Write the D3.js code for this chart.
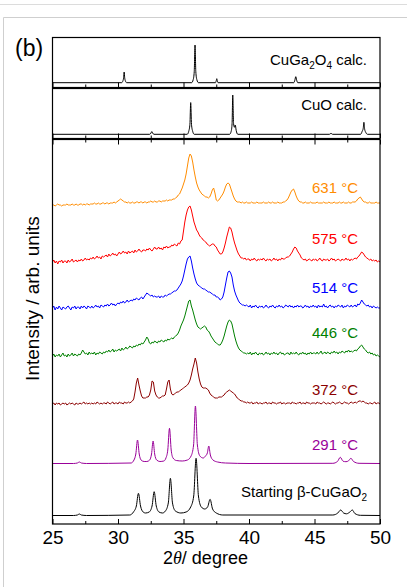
<!DOCTYPE html>
<html>
<head>
<meta charset="utf-8">
<script src="https://cdn.jsdelivr.net/npm/d3@7"></script>
<style>
html,body{margin:0;padding:0;background:#fff;}
svg{display:block;}
text{font-family:"Liberation Sans",Arial,Helvetica,sans-serif;}
</style>
</head>
<body>
<svg id="chart" width="407" height="587"></svg>
<script>
// ---------------- DATA ----------------
const xTicks = [25, 30, 35, 40, 45, 50];
const xMinorTicks = [27.5, 32.5, 37.5, 42.5, 47.5];
const xTickLabels = ["25", "30", "35", "40", "45", "50"];

// measurement grid (2θ, 0.1° step)
const twoTheta = d3.range(251).map(i => +(25 + i * 0.1).toFixed(1));

const orange631 = [
1,1,0,1,2,1,1,0,1,1,
1,2,1,1,1,2,1,1,2,1,
1,2,2,1,2,1,2,2,1,2,
2,2,3,2,2,3,2,2,3,3,
2,3,3,2,3,3,3,4,3,4,
5,6,7,6,5,4,4,3,4,3,
3,4,3,3,4,4,3,4,4,3,
4,4,3,4,4,5,4,4,5,4,
4,5,5,4,5,5,5,6,5,6,
6,6,7,7,8,9,11,12,15,18,
22,26,32,40,48,52,50,44,36,29,
23,19,16,14,12,11,10,9,9,8,
9,12,16,18,13,6,5,6,8,10,
12,15,19,22,23,22,18,14,10,7,
5,4,4,4,3,4,3,3,4,3,
3,3,4,3,3,3,4,3,3,3,
3,4,3,3,3,4,3,3,4,3,
3,3,4,3,3,3,4,4,5,6,
8,11,14,16,17,14,10,7,5,4,
4,3,3,4,3,3,3,4,3,3,
3,3,4,3,3,3,3,4,3,3,
3,4,3,3,3,4,3,3,3,4,
3,3,4,3,3,3,4,3,3,4,
4,4,5,7,8,9,7,5,4,4,
3,3,4,3,3,3,3,4,3,3,
3];

const red575 = [
1,3,0,2,-1,2,1,3,0,2,
2,0,3,1,2,4,1,2,3,1,
3,2,4,2,3,5,3,4,3,5,
4,6,4,5,7,5,6,4,7,6,
7,8,6,9,7,8,10,8,9,7,
9,11,9,10,12,10,11,9,12,10,
11,12,10,13,11,12,14,12,11,13,
13,12,14,13,15,13,12,14,16,14,
14,16,14,15,13,16,15,17,15,16,
16,18,17,19,18,17,20,19,22,23,
32,41,48,53,56,57,53,47,41,37,
33,31,28,26,25,23,22,21,19,18,
17,18,19,19,17,16,13,11,9,9,
11,15,20,26,31,36,35,31,25,20,
16,12,9,7,5,5,4,5,3,4,
4,2,4,3,5,3,2,4,3,4,
3,5,3,2,4,3,4,2,3,5,
3,4,2,4,3,5,4,4,5,6,
6,7,9,11,14,16,15,12,10,8,
5,4,3,4,2,3,4,3,2,4,
3,4,2,3,5,3,2,4,3,3,
4,2,3,5,3,4,2,3,4,3,
2,4,3,3,5,3,4,2,4,3,
4,5,4,6,7,9,11,10,8,6,
5,4,3,4,2,3,2,3,1,2,
1];

const blue514 = [
1,3,-1,2,0,3,1,-1,2,1,
0,2,3,1,-1,2,1,3,0,2,
2,0,3,1,3,2,0,3,2,1,
3,1,2,4,2,3,1,4,3,2,
4,3,5,3,4,6,4,5,3,5,
6,5,7,6,8,6,7,9,7,8,
9,8,10,9,11,10,9,11,12,10,
12,14,16,15,14,13,14,12,13,12,
12,13,11,13,12,12,14,13,14,15,
15,16,17,18,18,19,21,23,25,28,
33,39,45,50,52,53,48,41,35,30,
26,24,23,22,21,20,20,19,18,17,
17,16,15,14,14,12,12,11,9,10,
12,17,24,31,37,38,36,32,24,18,
14,11,8,6,5,4,4,3,4,3,
2,4,1,3,2,4,2,1,3,2,
3,1,2,4,2,1,3,2,4,2,
1,3,2,4,2,3,1,2,4,3,
2,4,2,3,1,3,2,4,2,3,
3,1,2,4,2,3,1,3,2,4,
2,3,1,4,2,3,2,5,2,3,
1,3,4,2,3,1,3,2,4,3,
2,4,1,3,2,4,3,2,4,2,
3,4,2,5,4,6,9,7,5,4,
3,4,2,3,1,3,2,1,2,1,
1];

const green446 = [
1,3,0,2,1,3,0,2,4,1,
2,0,3,1,2,4,1,3,2,1,
3,2,4,7,5,3,4,2,5,3,
4,3,5,2,4,3,5,4,3,5,
4,6,5,7,5,6,8,5,7,6,
7,8,6,9,7,8,10,8,9,11,
10,9,11,10,12,11,13,12,14,13,
15,17,20,18,14,13,15,14,16,15,
14,16,15,17,16,15,17,16,18,17,
18,19,18,20,21,22,24,27,31,34,
37,41,46,51,56,57,51,47,42,37,
33,30,29,28,29,30,31,30,27,26,
24,21,19,17,15,14,13,12,12,14,
17,21,26,31,35,37,36,33,27,21,
16,12,9,7,6,5,4,4,3,4,
3,5,2,4,3,5,3,2,4,3,
4,2,3,5,3,4,2,4,3,5,
3,4,2,4,5,3,4,2,3,4,
4,2,5,3,4,3,5,3,2,4,
3,5,3,4,2,4,3,5,3,4,
4,3,5,3,4,6,3,4,5,3,
5,4,3,5,4,6,4,5,3,5,
4,6,5,4,6,5,7,5,6,5,
6,7,6,8,9,11,12,10,8,7,
5,4,5,3,4,2,3,1,2,1,
0];

const wine372 = [
1,2,0,2,1,2,0,1,2,1,
2,0,1,2,1,2,1,0,2,1,
1,2,1,2,3,1,2,1,2,1,
2,1,2,1,3,2,1,2,1,2,
2,1,3,2,1,2,3,1,2,2,
1,3,2,2,1,3,2,2,3,2,
3,4,6,13,22,27,20,14,9,7,
7,7,8,8,10,15,24,23,14,10,
8,7,7,8,9,9,10,16,23,25,
16,11,10,11,12,13,13,14,15,16,
17,18,19,20,22,25,30,36,41,47,
42,33,26,21,18,17,17,17,16,15,
12,10,9,8,7,7,7,8,8,8,
9,10,12,13,14,15,14,13,12,11,
9,7,6,5,4,4,3,3,2,3,
2,2,3,1,2,2,3,1,2,2,
1,2,2,3,1,2,2,1,3,2,
2,1,2,2,3,1,2,2,1,2,
2,2,1,3,2,2,1,2,2,3,
1,2,2,1,3,2,2,1,2,2,
2,1,3,2,2,1,2,3,2,1,
2,2,1,2,3,2,1,2,2,3,
2,1,2,3,2,2,1,2,3,2,
2,3,2,3,4,4,3,4,3,2,
2,1,2,2,1,2,3,1,2,2,
1];

// sharper patterns: [2θ, intensity] pairs
const purple291 = [[25,0.5],[26.6,0.5],[26.9,1],[27.05,2],[27.2,1],[27.6,0.5],[31.0,1],[31.22,4],[31.36,10],[31.49,24],[31.62,10],[31.76,4],[32.0,2.5],[32.2,2.5],[32.42,4],[32.56,10],[32.68,23],[32.8,10],[32.95,4],[33.2,2.5],[33.5,3],[33.66,6],[33.8,14],[33.93,35.7],[34.06,14],[34.2,6],[34.45,3.5],[34.9,3],[35.3,4],[35.58,8],[35.77,19],[35.91,58],[36.06,19],[36.25,8],[36.5,6],[36.68,8],[36.82,11],[36.93,18],[37.05,9],[37.25,4],[37.6,2],[38.2,1],[40,0.5],[46.4,0.7],[46.75,2.5],[46.97,6.7],[47.18,2.8],[47.4,2.3],[47.6,3.2],[47.78,5.7],[47.98,2.5],[48.4,0.7],[50,0.5]];

const black0 = [[25,0.5],[26.6,0.5],[26.9,1],[27.05,2],[27.2,1],[27.6,0.5],[30.9,1],[31.18,4],[31.4,10],[31.56,22.7],[31.72,10],[31.92,4],[32.1,3],[32.38,4],[32.6,10],[32.76,24.3],[32.92,10],[33.13,4],[33.4,3],[33.62,5],[33.84,13],[34.0,37.7],[34.16,13],[34.38,5],[34.8,3],[35.2,4],[35.55,9],[35.78,20],[35.96,57.7],[36.14,20],[36.36,9],[36.62,7],[36.84,9],[37.03,16.7],[37.22,7],[37.5,3],[38,1],[46.4,1],[46.78,3],[47.0,6],[47.22,3],[47.45,2.2],[47.7,4],[47.89,6],[48.08,2.5],[48.5,0.7],[50,0.5]];

const cuga2o4Calc = [[25,0],[30.28,0],[30.38,2],[30.43,5],[30.47,10.7],[30.51,5],[30.56,2],[30.66,0],[35.62,0],[35.74,3],[35.82,11],[35.88,37.7],[35.94,11],[36.02,3],[36.14,0],[37.44,0],[37.5,2],[37.54,4],[37.58,2],[37.64,0],[43.42,0],[43.5,2.5],[43.57,6],[43.64,2.5],[43.72,0],[50,0]];

const cuoCalc = [[25,0],[32.42,0],[32.52,1.3],[32.58,2.7],[32.64,1.3],[32.74,0],[35.28,0],[35.4,3],[35.49,10],[35.55,31.7],[35.61,10],[35.7,3],[35.82,0],[38.52,0],[38.64,3],[38.71,11],[38.76,39.3],[38.82,11],[38.89,7],[38.95,9.3],[39.02,4],[39.14,0],[46.14,0],[46.26,1],[46.38,0],[48.52,0],[48.64,3],[48.72,6],[48.77,12],[48.83,5],[48.91,2],[49.04,0],[50,0]];

// stacking offsets (intensity units) and labels
const seriesNames = ["631 °C", "575 °C", "514 °C", "446 °C", "372 °C", "291 °C", "Starting β-CuGaO₂"];
const seriesOffsets = [318, 261, 215, 167, 119, 60, 8];
const seriesColors = ["#ff8c00", "#ff0000", "#0000ff", "#008000", "#8b0000", "#990099", "#000000"];
const calcOffsets = [4.8, 4.2];

// ---------------- DRAW ----------------
const svg = d3.select("#chart");
const FONT = '"Liberation Sans", Arial, Helvetica, sans-serif';

// page frame (light grey)
svg.append("line").attr("x1", 0).attr("x2", 407).attr("y1", 4.5).attr("y2", 4.5)
  .attr("stroke", "#dcdcdc").attr("stroke-width", 1);
svg.append("path").attr("d", "M3.5,587 V17.5 H407")
  .attr("fill", "none").attr("stroke", "#cfcfcf").attr("stroke-width", 1);

const L = 52.5, R = 380;
const x = d3.scaleLinear().domain([25, 50]).range([L, R]);

const panels = [
  { top: 37.5, bottom: 87.5, max: 50 },
  { top: 88.5, bottom: 138.5, max: 50 },
  { top: 139.5, bottom: 524, max: 384.5 }
];
panels.forEach(p => { p.y = d3.scaleLinear().domain([0, p.max]).range([p.bottom, p.top]); });

// clip paths
const defs = svg.append("defs");
panels.forEach((p, i) => {
  defs.append("clipPath").attr("id", "clip" + i).append("rect")
    .attr("x", L).attr("y", p.top).attr("width", R - L).attr("height", p.bottom - p.top);
});

// calc patterns
const calcData = [cuga2o4Calc, cuoCalc];
calcData.forEach((d, i) => {
  const p = panels[i];
  const line = d3.line().x(v => x(v[0])).y(v => p.y(calcOffsets[i] + v[1])).curve(d3.curveMonotoneX);
  svg.append("path").datum(d).attr("d", line).attr("fill", "none")
    .attr("stroke", "#000").attr("stroke-width", 1).attr("clip-path", "url(#clip" + i + ")");
});

// experimental patterns
const main = panels[2];
const gridSeries = [orange631, red575, blue514, green446, wine372];
gridSeries.forEach((vals, i) => {
  const line = d3.line().x((v, j) => x(twoTheta[j])).y(v => main.y(seriesOffsets[i] + v));
  svg.append("path").datum(vals).attr("d", line).attr("fill", "none")
    .attr("stroke", seriesColors[i]).attr("stroke-width", 1).attr("stroke-linejoin", "round")
    .attr("clip-path", "url(#clip2)");
});
[purple291, black0].forEach((d, k) => {
  const i = 5 + k;
  const line = d3.line().x(v => x(v[0])).y(v => main.y(seriesOffsets[i] + v[1])).curve(d3.curveMonotoneX);
  svg.append("path").datum(d).attr("d", line).attr("fill", "none")
    .attr("stroke", seriesColors[i]).attr("stroke-width", 1).attr("clip-path", "url(#clip2)");
});

// frames + ticks
panels.forEach((p, i) => {
  svg.append("rect").attr("x", L).attr("y", p.top).attr("width", R - L).attr("height", p.bottom - p.top)
    .attr("fill", "none").attr("stroke", "#000").attr("stroke-width", 1.2);
  const gb = svg.append("g").attr("transform", `translate(0,${p.bottom})`)
    .call(d3.axisTop(x).tickValues(xTicks).tickSize(5).tickFormat(""));
  const gbm = svg.append("g").attr("transform", `translate(0,${p.bottom})`)
    .call(d3.axisTop(x).tickValues(xMinorTicks).tickSize(3).tickFormat(""));
  [gb, gbm].forEach(g => { g.select(".domain").remove(); g.selectAll("line").attr("stroke-width", 1); });
  if (i === 2) {
    const gt = svg.append("g").attr("transform", `translate(0,${p.top})`)
      .call(d3.axisBottom(x).tickValues(xTicks).tickSize(5).tickFormat(""));
    const gtm = svg.append("g").attr("transform", `translate(0,${p.top})`)
      .call(d3.axisBottom(x).tickValues(xMinorTicks).tickSize(3).tickFormat(""));
    [gt, gtm].forEach(g => { g.select(".domain").remove(); g.selectAll("line").attr("stroke-width", 1); });
  }
});

// x tick labels
const gl = svg.append("g").attr("transform", `translate(0,${main.bottom})`)
  .call(d3.axisBottom(x).tickValues(xTicks).tickSize(0).tickPadding(0).tickFormat((d, i) => xTickLabels[i]));
gl.select(".domain").remove();
gl.selectAll("text").attr("font-family", FONT).attr("font-size", 19).attr("fill", "#000")
  .attr("dy", null).attr("y", 19.5);

// axis titles
const xt = svg.append("text").attr("x", 163).attr("y", 564).attr("font-family", FONT)
  .attr("font-size", 18).attr("fill", "#000");
xt.append("tspan").text("2");
xt.append("tspan").attr("font-style", "italic").attr("font-family", '"Liberation Serif", serif').text("θ");
xt.append("tspan").text("/ degree");

svg.append("text").attr("transform", "translate(39,298.5) rotate(-90)").attr("text-anchor", "middle")
  .attr("font-family", FONT).attr("font-size", 19).attr("fill", "#000").text("Intensity / arb. units");

svg.append("text").attr("x", 15).attr("y", 56).attr("font-family", FONT).attr("font-size", 23)
  .attr("fill", "#000").text("(b)");

// labels with subscripts
function subText(xp, yp, parts, color) {
  const t = svg.append("text").attr("x", xp).attr("y", yp).attr("text-anchor", "end")
    .attr("font-family", FONT).attr("font-size", 15).attr("fill", color);
  let shifted = false;
  parts.forEach(pt => {
    const s = t.append("tspan").text(pt.t);
    if (pt.sub) { s.attr("font-size", 10).attr("dy", shifted ? 0 : 4); shifted = true; }
    else { s.attr("dy", shifted ? -4 : 0); shifted = false; }
  });
  return t;
}
subText(367, 65, [{t:"CuGa"},{t:"2",sub:true},{t:"O"},{t:"4",sub:true},{t:" calc."}], "#000");
subText(367, 110, [{t:"CuO calc."}], "#000");

const labelBaselines = [193, 244, 292.5, 338, 395, 450];
labelBaselines.forEach((yb, i) => {
  svg.append("text").attr("x", 358).attr("y", yb).attr("text-anchor", "end")
    .attr("font-family", FONT).attr("font-size", 15).attr("fill", seriesColors[i]).text(seriesNames[i]);
});
subText(367, 496.5, [{t:"Starting β-CuGaO"},{t:"2",sub:true}], "#000");
</script>
</body>
</html>
